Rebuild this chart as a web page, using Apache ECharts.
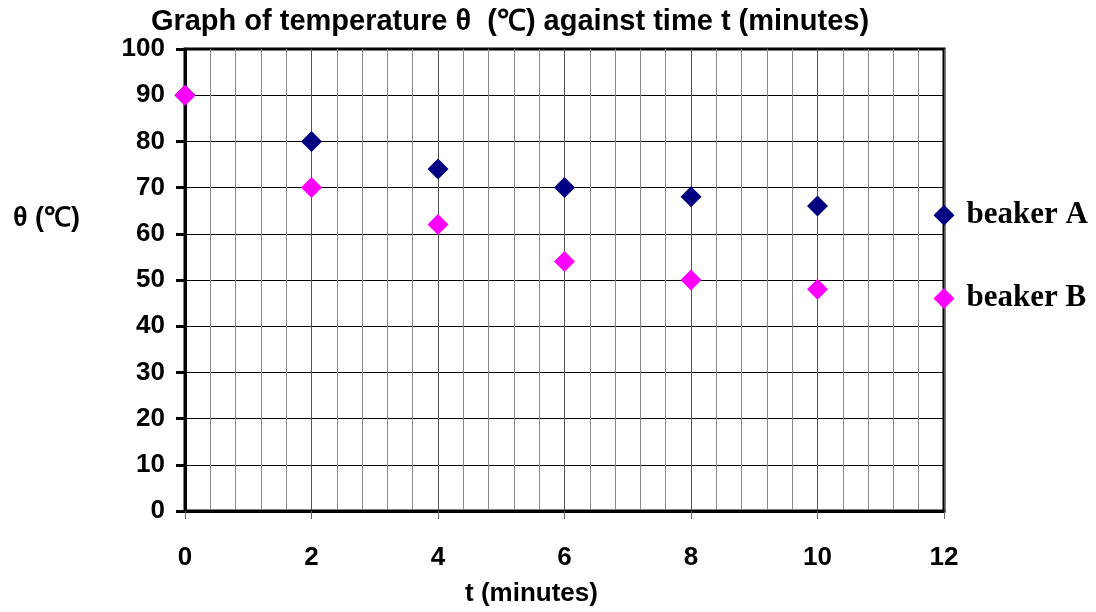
<!DOCTYPE html>
<html><head><meta charset="utf-8">
<script src="https://cdn.jsdelivr.net/npm/echarts@6/dist/echarts.min.js"></script>
<style>html,body{margin:0;padding:0;background:#fff}#c{width:1096px;height:612px}</style>
</head><body><div id="c"></div>
<script>
var times = [0, 2, 4, 6, 8, 10, 12];
var beakerA = [90, 80, 74, 70, 68, 66, 64];
var beakerB = [90, 70, 62, 54, 50, 48, 46];
var seriesNames = ['beaker A', 'beaker B'];
var xTicks = [0, 2, 4, 6, 8, 10, 12];
var yTicks = [0, 10, 20, 30, 40, 50, 60, 70, 80, 90, 100];

function pairs(vals) {
  return times.map(function (t, i) {
    var item = { value: [t, vals[i]] };
    if (i === times.length - 1) {
      item.label = {
        show: true, position: 'right', distance: 12,
        formatter: '{a}', fontFamily: 'Liberation Serif', fontWeight: 'bold',
        fontSize: 31, color: '#000', opacity: 1
      };
    }
    return item;
  });
}

var chart = echarts.init(document.getElementById('c'));
chart.setOption({
  animation: false,
  title: [{
    text: 'Graph of temperature θ  (℃) against time t (minutes)',
    left: 505, textAlign: 'center', top: 2,
    textStyle: { fontFamily: 'Liberation Sans', fontWeight: 'bold', fontSize: 29, color: '#000' }
  }, {
    text: 'θ (℃)', left: 8, top: 200,
    textStyle: { fontFamily: 'Liberation Sans', fontWeight: 'bold', fontSize: 27, color: '#000' }
  }],
  grid: { left: 185, right: 152, top: 49, bottom: 100, show: true, borderColor: '#000', borderWidth: 3, backgroundColor: 'transparent' },
  xAxis: {
    type: 'value', min: xTicks[0], max: xTicks[xTicks.length - 1], interval: 2,
    name: 't (minutes)', nameLocation: 'middle', nameGap: 70,
    nameTextStyle: { fontFamily: 'Liberation Sans', fontWeight: 'bold', fontSize: 26, color: '#000', padding: [0, 66, 0, 0] },
    axisLine: { lineStyle: { color: '#000', width: 3 } },
    axisTick: { show: true, length: 8, lineStyle: { color: '#666', width: 1 } },
    axisLabel: { margin: 34, fontFamily: 'Liberation Sans', fontWeight: 'bold', fontSize: 26, color: '#000' },
    splitLine: { show: true, lineStyle: { color: '#555', width: 1 } },
    minorTick: { show: false, splitNumber: 5 },
    minorSplitLine: { show: true, lineStyle: { color: '#888', width: 1 } }
  },
  yAxis: {
    type: 'value', min: yTicks[0], max: yTicks[yTicks.length - 1], interval: 10,
    axisLine: { show: true, lineStyle: { color: '#000', width: 3 } },
    axisTick: { show: true, length: 9, lineStyle: { color: '#000', width: 3 } },
    axisLabel: { margin: 20, fontFamily: 'Liberation Sans', fontWeight: 'bold', fontSize: 26, color: '#000' },
    splitLine: { show: true, lineStyle: { color: '#000', width: 1 } }
  },
  series: [{
    name: seriesNames[0], type: 'scatter', symbol: 'diamond', symbolSize: 21,
    itemStyle: { color: '#000080', opacity: 1 }, data: pairs(beakerA)
  }, {
    name: seriesNames[1], type: 'scatter', symbol: 'diamond', symbolSize: 21,
    itemStyle: { color: '#FF00FF', opacity: 1 }, data: pairs(beakerB)
  }]
});
</script></body></html>
